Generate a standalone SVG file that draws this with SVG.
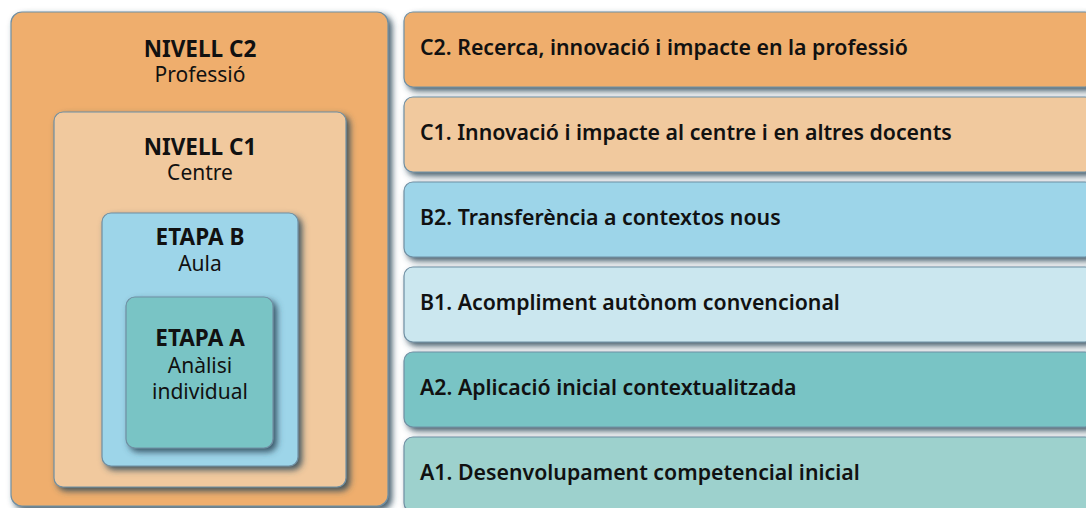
<svg xmlns="http://www.w3.org/2000/svg" width="1086" height="508" viewBox="0 0 1086 508">
<defs>
<filter id="sh" x="-10%" y="-10%" width="130%" height="130%">
<feDropShadow dx="3.5" dy="3.5" stdDeviation="3" flood-color="#2e4a5a" flood-opacity="0.9"/>
</filter>
<style>
.box{stroke:#6f8fa3;stroke-width:1.2;filter:url(#sh)}
.t{font-family:"Noto Sans","Open Sans",sans-serif;fill:#111}
.h{font-weight:700;font-size:22.5px;text-anchor:middle}
.s{font-weight:400;font-size:21px;text-anchor:middle}
.r{font-weight:600;font-size:21.3px}
</style>
</defs>
<rect width="1086" height="508" fill="#ffffff"/>
<g id="nivell-c2">
<rect class="box" x="11" y="12" width="377" height="494" rx="11" fill="#EFAE6D"/>
<text class="t h" x="200" y="57">NIVELL C2</text>
<text class="t s" x="200" y="82">Professió</text>
</g>
<g id="nivell-c1">
<rect class="box" x="54" y="112" width="292" height="375" rx="9" fill="#F1C99E"/>
<text class="t h" x="200" y="155">NIVELL C1</text>
<text class="t s" x="200" y="180">Centre</text>
</g>
<g id="etapa-b">
<rect class="box" x="102" y="213" width="196" height="253" rx="9" fill="#9DD5E9"/>
<text class="t h" x="200" y="245">ETAPA B</text>
<text class="t s" x="200" y="271">Aula</text>
</g>
<g id="etapa-a">
<rect class="box" x="126" y="297" width="147" height="151" rx="9" fill="#79C4C5"/>
<text class="t h" x="200" y="346">ETAPA A</text>
<text class="t s" x="200" y="373">Anàlisi</text>
<text class="t s" x="200" y="399">individual</text>
</g>
<g id="row-c2">
<rect class="box" x="404" y="12" width="690" height="75" rx="9" fill="#EFAE6D"/>
<text class="t r" x="420" y="55">C2. Recerca, innovació i impacte en la professió</text>
</g>
<g id="row-c1">
<rect class="box" x="404" y="97" width="690" height="75" rx="9" fill="#F1C99E"/>
<text class="t r" x="420" y="140">C1. Innovació i impacte al centre i en altres docents</text>
</g>
<g id="row-b2">
<rect class="box" x="404" y="182" width="690" height="75" rx="9" fill="#9DD5E9"/>
<text class="t r" x="420" y="225">B2. Transferència a contextos nous</text>
</g>
<g id="row-b1">
<rect class="box" x="404" y="267" width="690" height="75" rx="9" fill="#CBE7EF"/>
<text class="t r" x="420" y="310">B1. Acompliment autònom convencional</text>
</g>
<g id="row-a2">
<rect class="box" x="404" y="352" width="690" height="75" rx="9" fill="#79C4C5"/>
<text class="t r" x="420" y="395">A2. Aplicació inicial contextualitzada</text>
</g>
<g id="row-a1">
<rect class="box" x="404" y="437" width="690" height="75" rx="9" fill="#9DD1CD"/>
<text class="t r" x="420" y="480">A1. Desenvolupament competencial inicial</text>
</g>
<g id="connectors"></g>
</svg>
